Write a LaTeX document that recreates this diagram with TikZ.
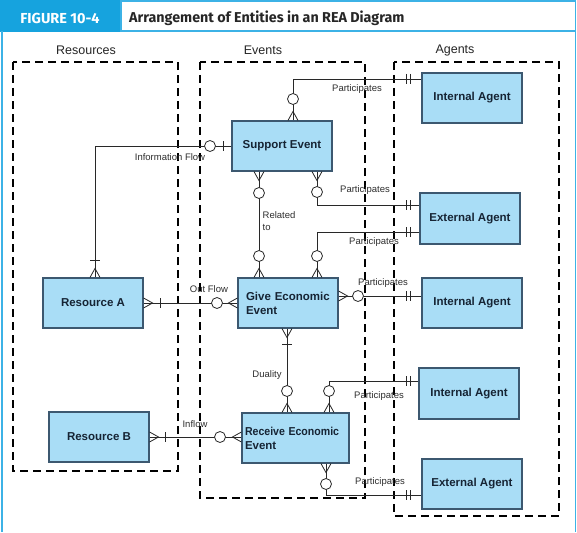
\documentclass[tikz,border=0pt]{standalone}
\usepackage{fontspec}
\usepackage{graphicx}
\setmainfont{Liberation Sans}
\newfontfamily\fira{Fira Sans}
\usetikzlibrary{calc}
\definecolor{hdr}{RGB}{22,163,222}
\definecolor{frm}{RGB}{60,178,230}
\definecolor{efill}{RGB}{169,221,246}
\definecolor{edraw}{RGB}{60,88,112}
\definecolor{etext}{RGB}{22,36,52}
\definecolor{ltext}{RGB}{45,45,45}
\definecolor{cline}{RGB}{40,40,40}
\tikzset{
 entity/.style={draw=edraw, line width=1.1pt, fill=efill, minimum width=100pt, minimum height=50pt, inner sep=0pt, font=\fontsize{11.5}{14}\selectfont\bfseries, text=etext, align=center},
 region/.style={draw=black, line width=1.5pt, dash pattern=on 8pt off 5pt},
 conn/.style={draw=cline, line width=0.8pt},
 lbl/.style={font=\fontsize{9.5}{11.5}\selectfont, text=ltext, inner sep=0pt},
 colhead/.style={font=\fontsize{12.5}{14}\selectfont, text=black!85, inner sep=0pt},
}
\newcommand\cfDown[1]{\draw[conn] ($(#1)+(-5,0)$) -- ($(#1)+(0,9)$) -- ($(#1)+(5,0)$);}
\newcommand\cfUp[1]{\draw[conn] ($(#1)+(-5,0)$) -- ($(#1)+(0,-9)$) -- ($(#1)+(5,0)$);}
\newcommand\cfRight[1]{\draw[conn] ($(#1)+(0,-5)$) -- ($(#1)+(9,0)$) -- ($(#1)+(0,5)$);}
\newcommand\cfLeft[1]{\draw[conn] ($(#1)+(0,-5)$) -- ($(#1)+(-9,0)$) -- ($(#1)+(0,5)$);}
\newcommand\vtick[2]{\draw[conn] (#1,#2-5) -- (#1,#2+5);}
\newcommand\htick[2]{\draw[conn] (#1-5,#2) -- (#1+5,#2);}
\newcommand\ring[2]{\draw[conn, fill=white] (#1,#2) circle (5.5);}
\newcommand\dbar[1]{\vtick{406}{#1}\vtick{410.5}{#1}}
\begin{document}
\begin{tikzpicture}[x=1pt,y=-1pt]
\useasboundingbox (0,0) rectangle (577,532);
\fill[white] (0,0) rectangle (577,532);
% header
\fill[hdr] (0,0) rectangle (121,32);
\draw[frm, line width=1.6pt, fill=white] (121,1) rectangle (575.5,31);
\draw[frm, line width=1.6pt] (2,31) -- (2,532);
\draw[frm, line width=1.6pt] (575.5,31) -- (575.5,532);
\node[font=\fira\bfseries\fontsize{14.5}{16}\selectfont, text=white] (fig) at (60,18.5) {FIGURE 10-4};
\node[font=\fira\bfseries\fontsize{14.3}{16}\selectfont, text=black!85, anchor=west, inner sep=0pt] (title) at (129,18.5) {Arrangement of Entities in an REA Diagram};
% column heads
\node[colhead] (hres) at (86,50) {Resources};
\node[colhead] (hev) at (263,50) {Events};
\node[colhead] (hag) at (455,50) {Agents};
% regions
\draw[region] (13,62) rectangle (178,471);
\draw[region] (200,62) rectangle (365,498);
\draw[region] (394,62) rectangle (559,516);
% entities
\node[entity] (IA1) at (472,98) {Internal Agent};
\node[entity] (SE) at (282,146) {Support Event};
\node[entity, minimum height=51pt] (EA1) at (470,218.5) {External Agent};
\node[entity] (RA) at (93,303) {Resource A};
\node[entity, align=left, text width=84pt] (GE) at (288,303) {Give Economic\\Event};
\node[entity] (IA2) at (472,303) {Internal Agent};
\node[entity, minimum height=51pt] (IA3) at (469,393.5) {Internal Agent};
\node[entity] (RB) at (99,437) {Resource B};
\node[entity, minimum width=107pt, align=left, text width=101pt] (RE) at (295.5,438) {\scalebox{0.92}[1]{Receive Economic}\\Event};
\node[entity] (EA2) at (472,484) {External Agent};
% 1 Support -> Internal Agent
\coordinate (c1) at (293,79);
\coordinate (e1) at (SE.north -| c1);
\draw[conn] (e1) -- (c1) -- (c1 -| IA1.west);
\cfUp{e1}\ring{293}{99}\dbar{79}
\node[lbl] (l1) at (357,89) {Participates};
% 2 Information flow
\coordinate (c2) at (95,146);
\coordinate (e2) at (c2 |- RA.north);
\draw[conn] (SE.west) -- (c2) -- (e2);
\vtick{223}{146}\ring{210}{146}\htick{95}{260}\cfUp{e2}
\node[lbl] (l2) at (170,157) {Information Flow};
% 3 Related to
\coordinate (e3a) at (SE.south -| 259,0);
\coordinate (e3b) at (GE.north -| 259,0);
\draw[conn] (e3a) -- (e3b);
\cfDown{e3a}\cfUp{e3b}\ring{259}{193}\ring{259}{256}
\node[lbl, anchor=north west, align=left] (l3) at (262.5,211.5) {Related\\to};
% 4 Support -> External Agent
\coordinate (c4) at (317,205);
\coordinate (e4) at (SE.south -| c4);
\draw[conn] (e4) -- (c4) -- (c4 -| EA1.west);
\cfDown{e4}\ring{317}{192}\dbar{205}
\node[lbl] (l4) at (365,190) {Participates};
% 5 Give -> External Agent
\coordinate (c5) at (317,232);
\coordinate (e5) at (GE.north -| c5);
\draw[conn] (e5) -- (c5) -- (c5 -| EA1.west);
\cfUp{e5}\ring{317}{256}\dbar{232}
\node[lbl] (l5) at (374,242) {Participates};
% 6 Out flow
\draw[conn] (RA.east) -- (GE.west);
\cfRight{RA.east}\vtick{160}{303}\ring{217}{303}\cfLeft{GE.west}
\node[lbl] (l6) at (209,289) {Out Flow};
% 7 Give -> Internal Agent
\coordinate (e7a) at (GE.east |- 0,296);
\coordinate (e7b) at (IA2.west |- 0,296);
\draw[conn] (e7a) -- (e7b);
\cfRight{e7a}\ring{358}{296}\dbar{296}
\node[lbl] (l7) at (383,283) {Participates};
% 8 Duality
\coordinate (e8a) at (GE.south -| 287,0);
\coordinate (e8b) at (RE.north -| 287,0);
\draw[conn] (e8a) -- (e8b);
\cfDown{e8a}\htick{287}{344}\ring{287}{391}\cfUp{e8b}
\node[lbl] (l8) at (267,375) {Duality};
% 9 Receive -> Internal Agent
\coordinate (c9) at (329,381);
\coordinate (e9) at (RE.north -| c9);
\draw[conn] (e9) -- (c9) -- (c9 -| IA3.west);
\cfUp{e9}\ring{329}{391}\dbar{381}
\node[lbl] (l9) at (379,396) {Participates};
% 10 Inflow
\coordinate (e10) at (RB.east -| RE.west);
\draw[conn] (RB.east) -- (e10);
\cfRight{RB.east}\vtick{165}{437}\ring{220}{437}\cfLeft{e10}
\node[lbl] (l10) at (195,424) {Inflow};
% 11 Receive -> External Agent
\coordinate (c11) at (326,495);
\coordinate (e11) at (RE.south -| c11);
\draw[conn] (e11) -- (c11) -- (c11 -| EA2.west);
\cfDown{e11}\ring{326}{484}\dbar{495}
\node[lbl] (l11) at (380,482) {Participates};
\end{tikzpicture}
\end{document}
